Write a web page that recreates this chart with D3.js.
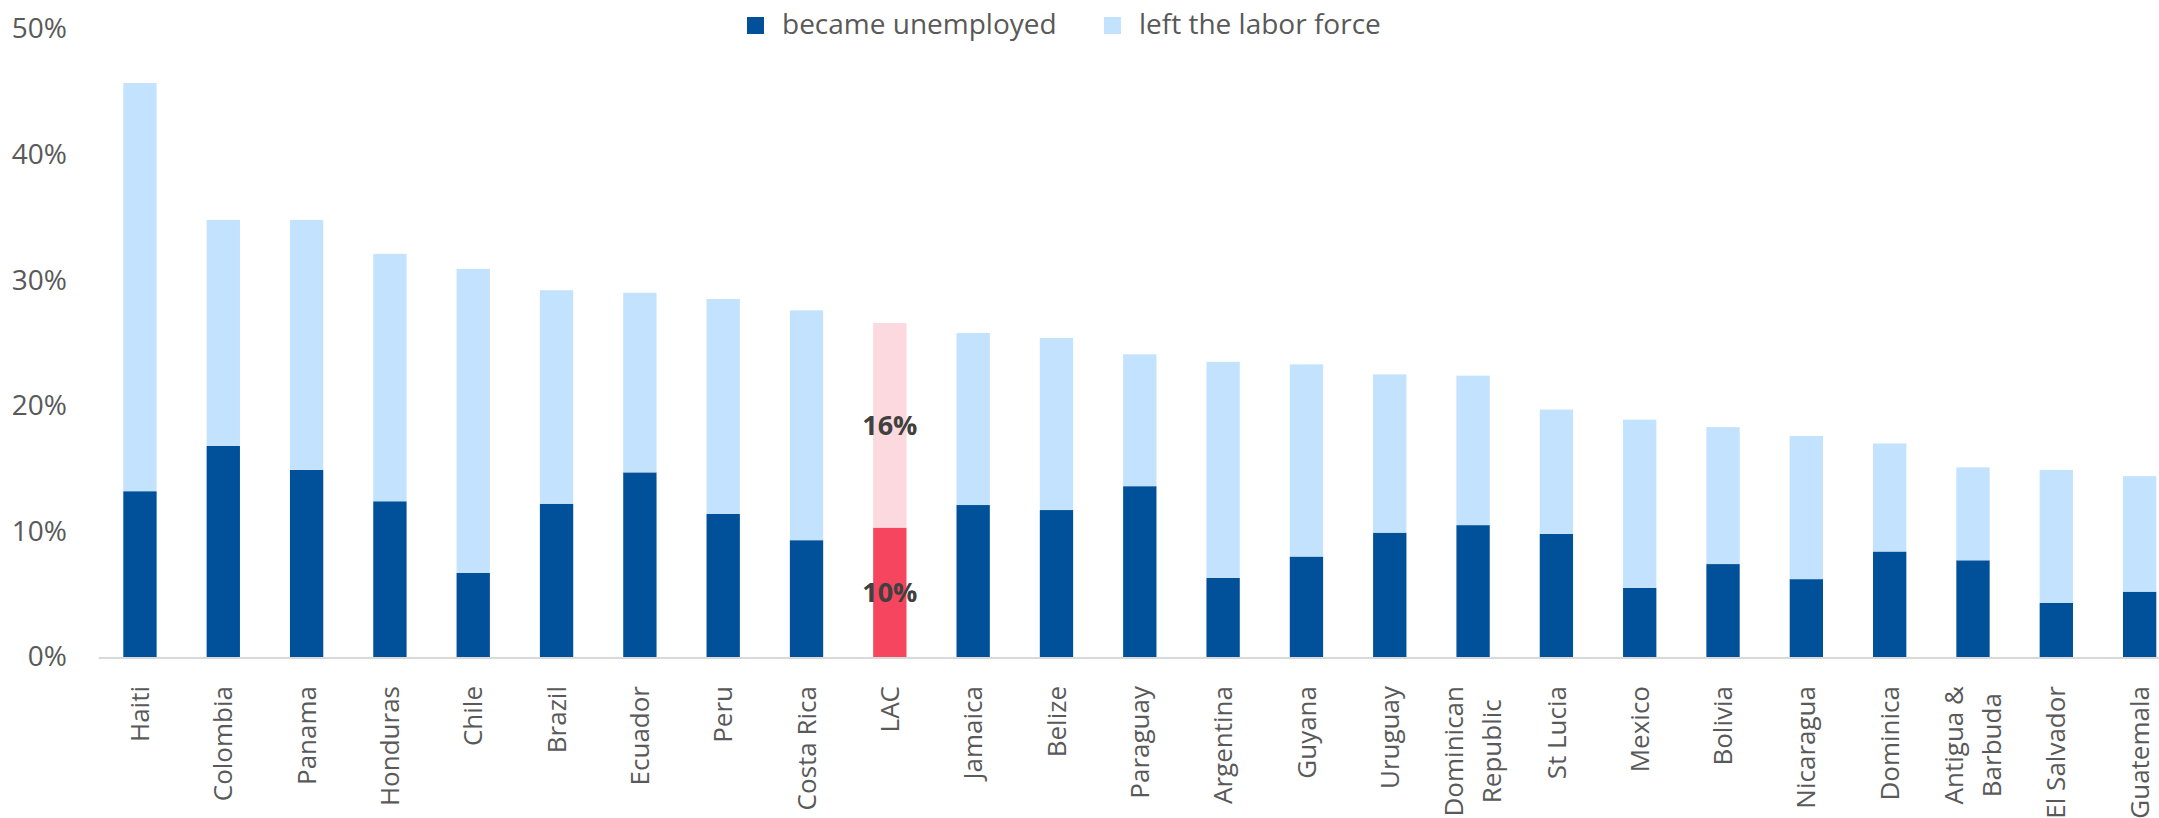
<!DOCTYPE html>
<html>
<head>
<meta charset="utf-8">
<script src="https://cdn.jsdelivr.net/npm/d3@7/dist/d3.min.js"></script>
<style>
  html, body { margin: 0; padding: 0; background: #fff; }
  svg { display: block; font-family: "Open Sans", "Noto Sans", sans-serif; }
</style>
</head>
<body>
<svg id="chart" width="2159" height="818"></svg>
<script>
// Share of workers (%) who lost employment, split by outcome
const categories = [
  "Haiti", "Colombia", "Panama", "Honduras", "Chile", "Brazil", "Ecuador", "Peru",
  "Costa Rica", "LAC", "Jamaica", "Belize", "Paraguay", "Argentina", "Guyana", "Uruguay",
  "Dominican Republic", "St Lucia", "Mexico", "Bolivia", "Nicaragua", "Dominica",
  "Antigua & Barbuda", "El Salvador", "Guatemala"
];
const unemployed = [
  13.2, 16.8, 14.9, 12.4, 6.7, 12.2, 14.7, 11.4,
  9.3, 10.3, 12.1, 11.7, 13.6, 6.3, 8.0, 9.9,
  10.5, 9.8, 5.5, 7.4, 6.2, 8.4,
  7.7, 4.3, 5.2
];
const leftLaborForce = [
  32.5, 18.0, 19.9, 19.7, 24.2, 17.0, 14.3, 17.1,
  18.3, 16.3, 13.7, 13.7, 10.5, 17.2, 15.3, 12.6,
  11.9, 9.9, 13.4, 10.9, 11.4, 8.6,
  7.4, 10.6, 9.2
];
// Multi-line axis labels
const categoryLines = {
  "Dominican Republic": ["Dominican", "Republic"],
  "Antigua & Barbuda": ["Antigua &", "Barbuda"]
};
const yTicks = [0, 10, 20, 30, 40, 50];
const seriesKeys = ["unemployed", "left"];
const seriesNames = ["became unemployed", "left the labor force"];
const highlight = "LAC";

const colors = { unemployed: "#00519A", left: "#C2E2FD" };
const highlightColors = { unemployed: "#F5455F", left: "#FCD9DF" };

const rows = categories.map((c, i) => ({ category: c, unemployed: unemployed[i], left: leftLaborForce[i] }));
const stacked = d3.stack().keys(seriesKeys)(rows);

const svg = d3.select("#chart");

const x = d3.scaleBand()
  .domain(categories)
  .range([98.3, 2181.3])
  .paddingInner(0.6)
  .paddingOuter(0.3);

const y = d3.scaleLinear().domain([0, 50]).range([657, 29]);

// Y axis labels
const yAxis = svg.append("g")
  .attr("transform", "translate(98,0)")
  .call(d3.axisLeft(y).tickValues(yTicks).tickFormat(d => d + "%").tickSize(0).tickPadding(31));
yAxis.select(".domain").remove();
yAxis.selectAll("text")
  .attr("fill", "#595959")
  .style("font-size", "28px")
  .style("font-family", "'Open Sans', sans-serif");

// Stacked bars
const layers = svg.append("g").selectAll("g")
  .data(stacked)
  .join("g");

layers.selectAll("rect")
  .data(s => s.map(d => ({ key: s.key, d })))
  .join("rect")
  .attr("x", o => x(o.d.data.category))
  .attr("width", x.bandwidth())
  .attr("y", o => y(o.d[1]))
  .attr("height", o => y(o.d[0]) - y(o.d[1]))
  .attr("fill", o => o.d.data.category === highlight ? highlightColors[o.key] : colors[o.key]);

// Value labels on the highlighted bar
const fmt = d3.format(".0f");
stacked.forEach(s => {
  const d = s.find(v => v.data.category === highlight);
  svg.append("text")
    .attr("x", x(highlight) + x.bandwidth() / 2)
    .attr("y", y((d[0] + d[1]) / 2))
    .attr("dy", "0.35em")
    .attr("text-anchor", "middle")
    .attr("fill", "#404040")
    .style("font-size", "27px")
    .style("font-weight", "700")
    .text(fmt(d[1] - d[0]) + "%");
});

// X axis baseline
const xAxis = svg.append("g")
  .attr("transform", "translate(0,657.5)")
  .call(d3.axisBottom(x).tickSize(0).tickFormat(""));
xAxis.select(".domain").attr("stroke", "#D9D9D9").attr("stroke-width", 2);

// Rotated category labels
const labelTop = 686;
const lineGap = 38;
const labels = svg.append("g")
  .style("font-size", "26px")
  .attr("fill", "#595959");

categories.forEach(c => {
  const lines = categoryLines[c] || [c];
  const cx = x(c) + x.bandwidth() / 2;
  const g = labels.append("g");
  const texts = lines.map((ln, i) => g.append("text")
    .attr("dy", "0.35em")
    .text(ln));
  const maxLen = d3.max(texts, t => t.node().getComputedTextLength());
  texts.forEach((t, i) => {
    const off = (i - (lines.length - 1) / 2) * lineGap;
    if (lines.length === 1) {
      t.attr("text-anchor", "end")
        .attr("transform", `translate(${cx + off},${labelTop}) rotate(-90)`);
    } else {
      t.attr("text-anchor", "middle")
        .attr("transform", `translate(${cx + off},${labelTop + maxLen / 2}) rotate(-90)`);
    }
  });
});

// Legend
const legendX = [747, 1104];
const legend = svg.append("g");
seriesKeys.forEach((k, i) => {
  legend.append("rect")
    .attr("x", legendX[i])
    .attr("y", 17)
    .attr("width", 17)
    .attr("height", 17)
    .attr("fill", colors[k]);
  legend.append("text")
    .attr("x", legendX[i] + 35)
    .attr("y", 34)
    .attr("fill", "#595959")
    .style("font-size", "28px")
    .text(seriesNames[i]);
});
</script>
</body>
</html>
